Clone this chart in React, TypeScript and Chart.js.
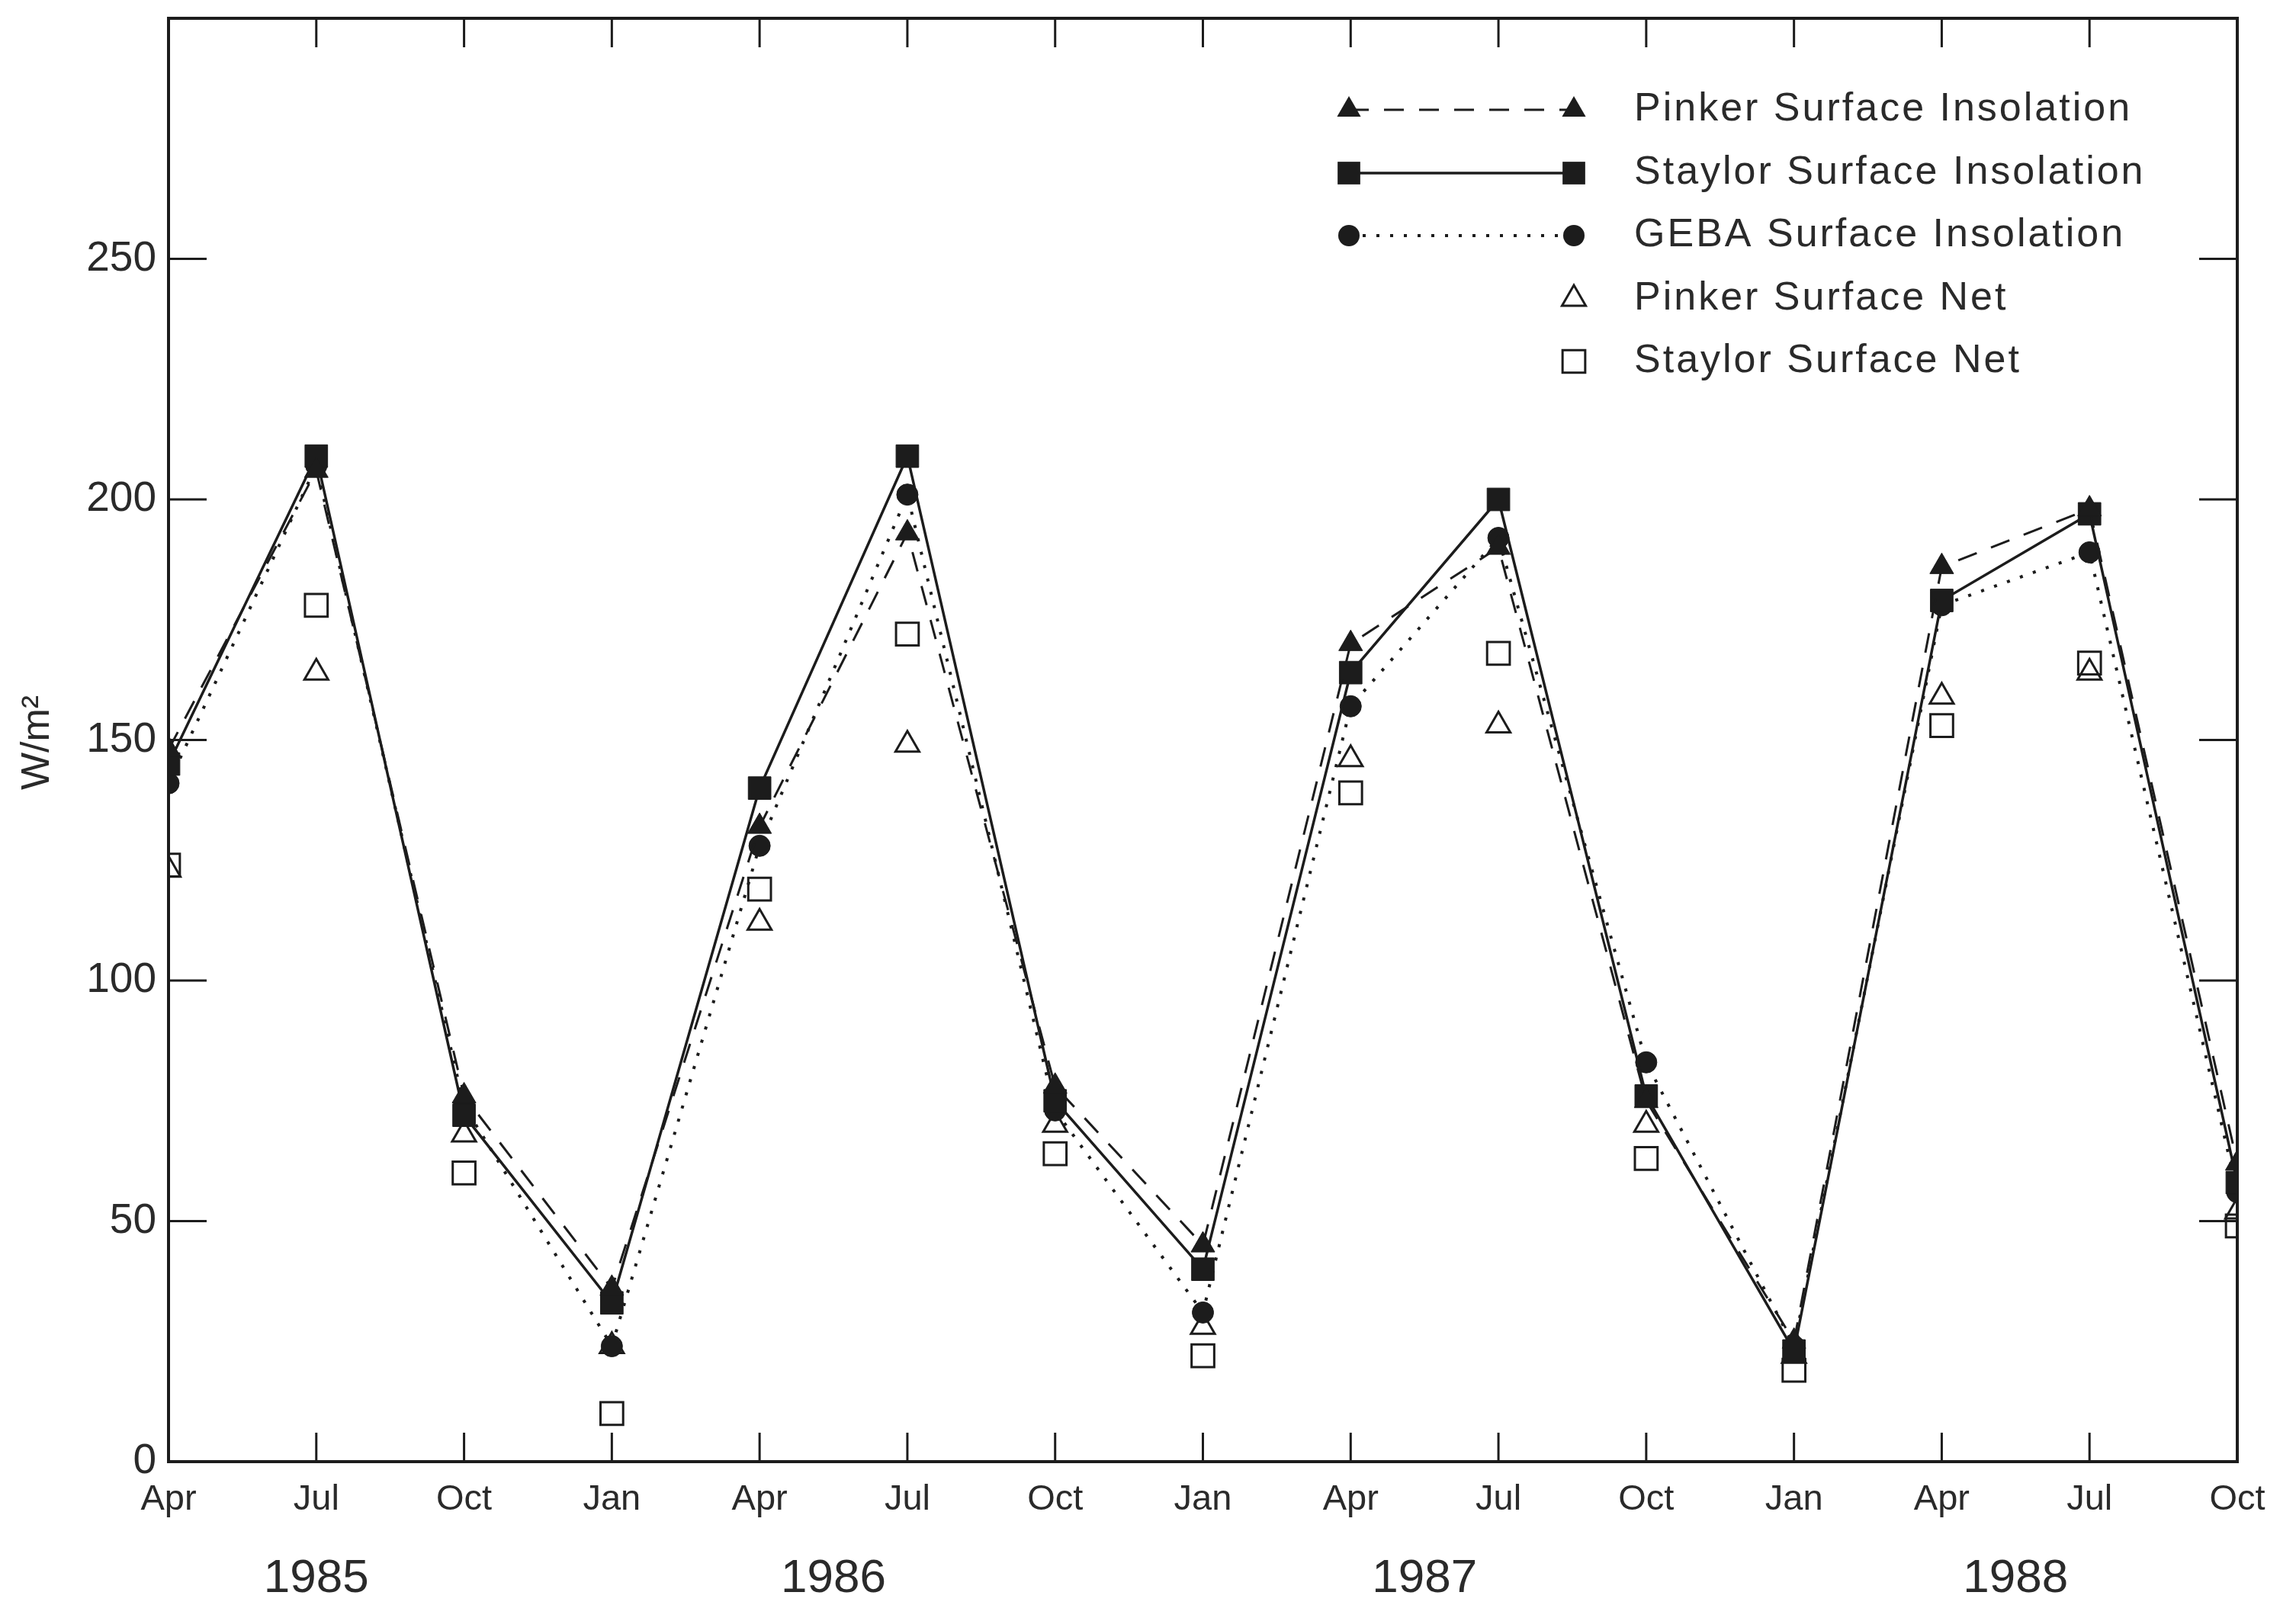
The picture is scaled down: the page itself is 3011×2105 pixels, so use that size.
import React, { useEffect, useRef } from 'react';
import { Chart, registerables } from 'chart.js';

Chart.register(...registerables);

// ---- data ----
const months = ['Apr', 'Jul', 'Oct', 'Jan', 'Apr', 'Jul', 'Oct', 'Jan', 'Apr', 'Jul', 'Oct', 'Jan', 'Apr', 'Jul', 'Oct'];
const years = ['1985', '1986', '1987', '1988'];
const yearPositions = [1, 4.5, 8.5, 12.5];

const pinkerInsolation = [148, 206, 76, 36, 132, 193, 78, 45, 170, 190, 75, 25, 186, 198, 62];
const staylorInsolation = [145, 209, 72, 33, 140, 209, 75, 40, 164, 200, 76, 23, 179, 197, 58];
const gebaInsolation = [141, 207, 74, 24, 128, 201, 73, 31, 157, 192, 83, 24, 178, 189, 56];
const pinkerNet = [123, 164, 68, 24, 112, 149, 70, 28, 146, 153, 70, 22, 159, 164, 52];
const staylorNet = [124, 178, 60, 10, 119, 172, 64, 22, 139, 168, 63, 19, 153, 166, 49];

const seriesLabels = [
  'Pinker Surface Insolation',
  'Staylor Surface Insolation',
  'GEBA Surface Insolation',
  'Pinker Surface Net',
  'Staylor Surface Net',
];

const INK = '#1c1c1c';
const TEXT = '#2a2a2a';
const FONT = "'Liberation Sans', Arial, sans-serif";

const W = 3011;
const H = 2105;

function drawMarker(ctx: CanvasRenderingContext2D, style: string, x: number, y: number, r: number, filled: boolean) {
  ctx.beginPath();
  if (style === 'triangle') {
    let rad = 0;
    ctx.moveTo(x + Math.sin(rad) * r, y - Math.cos(rad) * r);
    rad += (2 * Math.PI) / 3;
    ctx.lineTo(x + Math.sin(rad) * r, y - Math.cos(rad) * r);
    rad += (2 * Math.PI) / 3;
    ctx.lineTo(x + Math.sin(rad) * r, y - Math.cos(rad) * r);
    ctx.closePath();
  } else if (style === 'rect') {
    const s = Math.SQRT1_2 * r;
    ctx.rect(x - s, y - s, 2 * s, 2 * s);
  } else {
    ctx.arc(x, y, r, 0, Math.PI * 2);
  }
  if (filled) {
    ctx.fillStyle = INK;
    ctx.fill();
  } else {
    ctx.lineWidth = 3;
    ctx.strokeStyle = INK;
    ctx.stroke();
  }
}

const framePlugin = {
  id: 'frameTicks',
  afterDatasetsDraw(chart: any) {
    const { ctx, chartArea } = chart;
    const xs = chart.scales.x;
    const ys = chart.scales.y;
    const { left, right, top, bottom } = chartArea;
    ctx.save();
    ctx.strokeStyle = INK;
    ctx.lineWidth = 4;
    ctx.setLineDash([]);
    ctx.strokeRect(left, top, right - left, bottom - top);
    ctx.lineWidth = 3;
    // x ticks (inward) bottom and top
    months.forEach((_, i) => {
      const px = xs.getPixelForValue(i);
      ctx.beginPath();
      ctx.moveTo(px, bottom);
      ctx.lineTo(px, bottom - 38);
      ctx.moveTo(px, top);
      ctx.lineTo(px, top + 38);
      ctx.stroke();
    });
    // y ticks (inward) left and right
    ys.ticks.forEach((t: any) => {
      const py = ys.getPixelForValue(t.value);
      ctx.beginPath();
      ctx.moveTo(left, py);
      ctx.lineTo(left + 50, py);
      ctx.moveTo(right, py);
      ctx.lineTo(right - 50, py);
      ctx.stroke();
    });
    // year labels
    ctx.fillStyle = TEXT;
    ctx.font = `62px ${FONT}`;
    ctx.textAlign = 'center';
    ctx.textBaseline = 'middle';
    years.forEach((yr, i) => {
      ctx.fillText(yr, xs.getPixelForValue(yearPositions[i]), 2071);
    });
    // y axis title
    ctx.save();
    ctx.translate(50, 974);
    ctx.rotate(-Math.PI / 2);
    ctx.font = `52px ${FONT}`;
    ctx.fillText('W/m²', 0, 0);
    ctx.restore();

    // legend
    const rows = [144, 227, 309, 392, 474];
    const x1 = 1769;
    const x2 = 2064;
    const tx = 2143;
    chart.data.datasets.forEach((ds: any, i: number) => {
      const y = rows[i];
      if (ds.showLine !== false) {
        ctx.beginPath();
        ctx.setLineDash(ds.borderDash || []);
        ctx.lineWidth = ds.borderWidth;
        ctx.strokeStyle = INK;
        ctx.moveTo(x1, y);
        ctx.lineTo(x2, y);
        ctx.stroke();
        ctx.setLineDash([]);
        drawMarker(ctx, ds.pointStyle, x1, y, ds.pointRadius, true);
        drawMarker(ctx, ds.pointStyle, x2, y, ds.pointRadius, true);
      } else {
        ctx.setLineDash([]);
        drawMarker(ctx, ds.pointStyle, x2, y, ds.pointRadius, false);
      }
      ctx.fillStyle = TEXT;
      ctx.font = `52px ${FONT}`;
      (ctx as any).letterSpacing = '3px';
      ctx.textAlign = 'left';
      ctx.textBaseline = 'middle';
      ctx.fillText(ds.label, tx, y);
      (ctx as any).letterSpacing = '0px';
    });
    ctx.restore();
  },
};

export default function App() {
  const ref = useRef<HTMLCanvasElement>(null);
  useEffect(() => {
    const canvas = ref.current!;
    const lineDs = (label: string, data: number[], style: string, r: number, dash: number[], bw: number) => ({
      label,
      data,
      borderColor: INK,
      backgroundColor: INK,
      borderWidth: bw,
      borderDash: dash,
      pointStyle: style,
      pointRadius: r,
      pointBackgroundColor: INK,
      pointBorderColor: INK,
      pointBorderWidth: 1,
      tension: 0,
      fill: false,
      clip: 0,
    });
    const netDs = (label: string, data: number[], style: string, r: number) => ({
      label,
      data,
      showLine: false,
      borderColor: INK,
      backgroundColor: 'rgba(0,0,0,0)',
      pointStyle: style,
      pointRadius: r,
      pointBackgroundColor: 'rgba(0,0,0,0)',
      pointBorderColor: INK,
      pointBorderWidth: 3,
      clip: 0,
    });
    const chart = new Chart(canvas, {
      type: 'line',
      data: {
        labels: months,
        datasets: [
          lineDs(seriesLabels[0], pinkerInsolation, 'triangle', 18, [26, 20], 3),
          lineDs(seriesLabels[1], staylorInsolation, 'rect', 21, [], 3.5),
          lineDs(seriesLabels[2], gebaInsolation, 'circle', 14, [4, 14], 4),
          netDs(seriesLabels[3], pinkerNet, 'triangle', 18),
          netDs(seriesLabels[4], staylorNet, 'rect', 21),
        ] as any,
      },
      options: {
        animation: false,
        responsive: false,
        devicePixelRatio: 1,
        layout: { padding: { left: 0, top: 23, right: 77, bottom: 0 } },
        plugins: {
          legend: { display: false },
          tooltip: { enabled: false },
          title: { display: false },
        },
        scales: {
          x: {
            type: 'category',
            offset: false,
            grid: { display: false, drawTicks: false },
            border: { display: false },
            ticks: {
              autoSkip: false,
              maxRotation: 0,
              minRotation: 0,
              padding: 22,
              color: TEXT,
              font: { family: FONT, size: 47 },
            },
            afterFit: (s: any) => {
              s.height = H - 1917;
              s.paddingLeft = 0;
              s.paddingRight = 0;
            },
          },
          y: {
            type: 'linear',
            min: 0,
            max: 300,
            grid: { display: false, drawTicks: false },
            border: { display: false },
            ticks: {
              stepSize: 50,
              padding: 16,
              color: TEXT,
              font: { family: FONT, size: 55 },
              callback: (v: any) => (v >= 300 ? null : String(v)),
            },
            afterFit: (s: any) => {
              s.width = 221;
              s.paddingTop = 0;
              s.paddingBottom = 0;
            },
          },
        },
      },
      plugins: [framePlugin],
    });
    return () => chart.destroy();
  }, []);
  return (
    <div style={{ position: 'absolute', left: 0, top: 0, width: W, height: H, background: '#fff' }}>
      <canvas ref={ref} width={W} height={H} style={{ width: W, height: H, display: 'block' }} />
    </div>
  );
}
